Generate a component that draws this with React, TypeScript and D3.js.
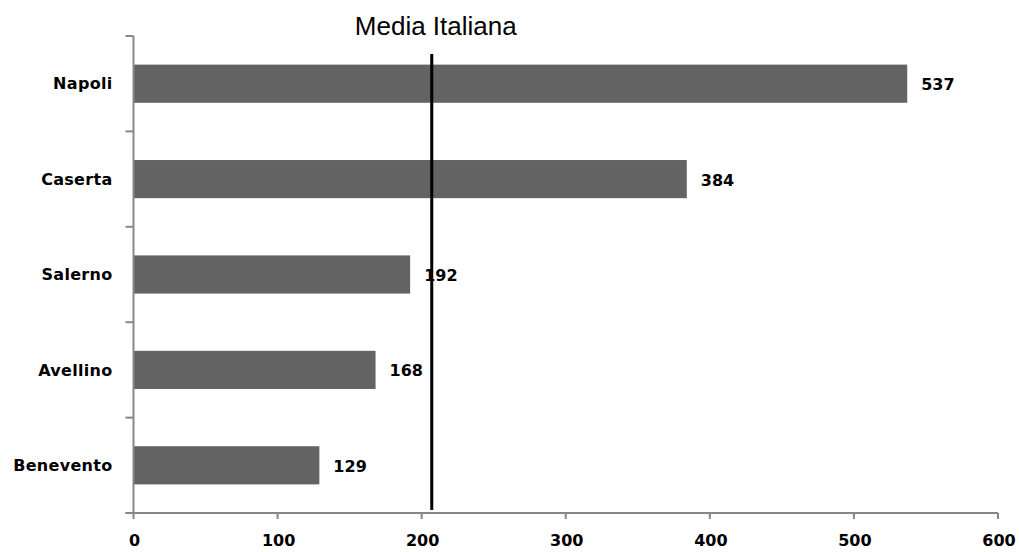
import * as d3 from 'd3'

const provinces = ['Napoli', 'Caserta', 'Salerno', 'Avellino', 'Benevento']
const values = [537, 384, 192, 168, 129]
const xTicks = [0, 100, 200, 300, 400, 500, 600]
const mediaItaliana = 207
const mediaLabel = 'Media Italiana'

const width = 1019
const height = 552
const margin = { top: 36, right: 21, bottom: 39, left: 133.5 }

const labelFont = '"DejaVu Sans", Verdana, sans-serif'
const axisColor = '#878787'
const barColor = '#636363'

export default function App() {
  const x = d3
    .scaleLinear()
    .domain([0, 600])
    .range([margin.left, width - margin.right])
  const y = d3
    .scaleBand()
    .domain(provinces)
    .range([margin.top, height - margin.bottom])
    .paddingInner(0.6)
    .paddingOuter(0.3)

  const step = y.step()
  const bottom = height - margin.bottom
  // tick boundaries on the category axis, between the bands
  const yTicks = d3.range(provinces.length + 1).map(i => margin.top + i * step)

  return (
    <div style={{ position: 'fixed', left: 0, top: 0, background: '#fff' }}>
      <svg width={width} height={height} viewBox={`0 0 ${width} ${height}`}>
        <rect width={width} height={height} fill="#fff" />

        {provinces.map((p, i) => (
          <rect
            key={p}
            x={x(0)}
            y={y(p)}
            width={x(values[i]) - x(0)}
            height={y.bandwidth()}
            fill={barColor}
          />
        ))}

        {/* category axis */}
        <line x1={x(0)} x2={x(0)} y1={margin.top} y2={bottom} stroke={axisColor} strokeWidth={2} />
        {yTicks.map(t => (
          <line key={`yt-${t}`} x1={x(0) - 8} x2={x(0)} y1={t} y2={t} stroke={axisColor} strokeWidth={2} />
        ))}
        {provinces.map(p => (
          <text
            key={`yl-${p}`}
            x={x(0) - 21}
            y={(y(p) ?? 0) + y.bandwidth() / 2}
            dy="0.36em"
            textAnchor="end"
            fontFamily={labelFont}
            fontWeight="bold"
            fontSize={16}
            letterSpacing={0.3}
            fill="#000"
          >
            {p}
          </text>
        ))}

        {/* value axis */}
        <line x1={x(0) - 8} x2={x(600)} y1={bottom} y2={bottom} stroke={axisColor} strokeWidth={2} />
        {xTicks.map(t => (
          <g key={`xt-${t}`}>
            <line x1={x(t)} x2={x(t)} y1={bottom} y2={bottom + 6} stroke={axisColor} strokeWidth={2} />
            <text
              x={x(t) + 1}
              y={546}
              textAnchor="middle"
              fontFamily={labelFont}
              fontWeight="bold"
              fontSize={16}
              fill="#000"
            >
              {t}
            </text>
          </g>
        ))}

        {/* value labels */}
        {provinces.map((p, i) => (
          <text
            key={`vl-${p}`}
            x={x(values[i]) + 14}
            y={(y(p) ?? 0) + y.bandwidth() / 2}
            dy="0.4em"
            fontFamily={labelFont}
            fontWeight="bold"
            fontSize={16}
            fill="#000"
          >
            {values[i]}
          </text>
        ))}

        {/* media line */}
        <line
          x1={x(mediaItaliana)}
          x2={x(mediaItaliana)}
          y1={54}
          y2={bottom - 3}
          stroke="#000"
          strokeWidth={3}
        />
        <text
          x={x(mediaItaliana) + 4}
          y={35}
          textAnchor="middle"
          fontFamily='"Liberation Sans", Arial, sans-serif'
          fontSize={26}
          fill="#000"
        >
          {mediaLabel}
        </text>
      </svg>
    </div>
  )
}
